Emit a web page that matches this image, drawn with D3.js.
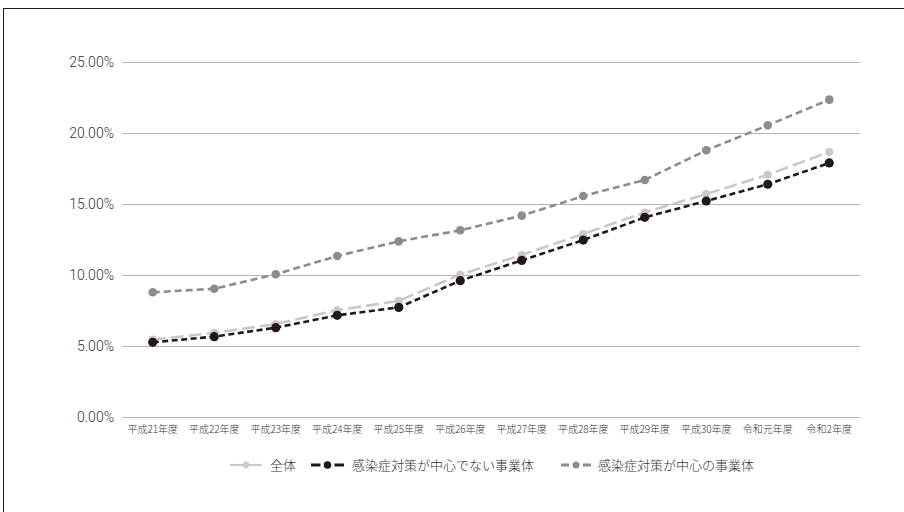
<!DOCTYPE html>
<html>
<head>
<meta charset="utf-8">
<script src="https://cdn.jsdelivr.net/npm/d3@7/dist/d3.min.js"></script>
<style>
  html, body { margin: 0; padding: 0; background: #fff; }
  svg { display: block; font-family: "Noto Sans CJK JP", "Noto Sans", sans-serif; }
</style>
</head>
<body>
<svg id="chart" width="904" height="512"></svg>
<script>
// Fiscal years on the x axis
const years = ["平成21年度", "平成22年度", "平成23年度", "平成24年度", "平成25年度", "平成26年度",
               "平成27年度", "平成28年度", "平成29年度", "平成30年度", "令和元年度", "令和2年度"];

// Share (%) for each group
const overall   = [5.45, 5.92, 6.55, 7.52, 8.18, 10.03, 11.41, 12.89, 14.41, 15.70, 17.06, 18.66];
const nonCenter = [5.26, 5.66, 6.29, 7.16, 7.72, 9.60, 11.03, 12.46, 14.06, 15.21, 16.39, 17.89];
const center    = [8.78, 9.03, 10.05, 11.34, 12.37, 13.15, 14.18, 15.56, 16.69, 18.78, 20.54, 22.35];

const seriesNames = ["全体", "感染症対策が中心でない事業体", "感染症対策が中心の事業体"];
const yTicks = [0, 5, 10, 15, 20, 25];

const series = [
  { name: seriesNames[0], values: overall,   color: "#c9c9c9", dash: "13,5", width: 2.6, r: 4 },
  { name: seriesNames[1], values: nonCenter, color: "#231815", dash: "6,3.5", width: 2.6, r: 4.6 },
  { name: seriesNames[2], values: center,    color: "#8c8c8c", dash: "7,4",  width: 2.6, r: 4.3 }
];

const svg = d3.select("#chart");

// Frame lines (top and left)
svg.append("line").attr("x1", 3).attr("x2", 904).attr("y1", 8.5).attr("y2", 8.5)
  .attr("stroke", "#231815").attr("stroke-width", 1.2);
svg.append("line").attr("x1", 3.5).attr("x2", 3.5).attr("y1", 8).attr("y2", 512)
  .attr("stroke", "#231815").attr("stroke-width", 1);

const plot = { left: 122, right: 860, top: 62, bottom: 417 };

const x = d3.scaleBand().domain(years).range([plot.left, plot.right]);
const y = d3.scaleLinear().domain([0, 25]).range([plot.bottom, plot.top]);

// Horizontal gridlines
svg.append("g")
  .selectAll("line")
  .data(yTicks)
  .join("line")
  .attr("x1", plot.left).attr("x2", plot.right)
  .attr("y1", d => Math.round(y(d)) + 0.5).attr("y2", d => Math.round(y(d)) + 0.5)
  .attr("stroke", "#b4b4b4").attr("stroke-width", 1);

// Y axis labels
const yAxis = d3.axisLeft(y).tickValues(yTicks).tickSize(0).tickPadding(0)
  .tickFormat(d => d3.format(".2f")(d) + "%");
const gy = svg.append("g").attr("transform", `translate(${plot.left - 8},0)`).call(yAxis);
gy.select(".domain").remove();
gy.selectAll("text")
  .attr("font-family", "Roboto, 'Noto Sans', sans-serif")
  .attr("font-weight", 300)
  .attr("font-size", 14).attr("fill", "#333");

// X axis labels
const xAxis = d3.axisBottom(x).tickSize(0).tickPadding(0);
const gx = svg.append("g").attr("transform", `translate(0,${plot.bottom + 12})`).call(xAxis);
gx.select(".domain").remove();
gx.selectAll("text")
  .attr("dy", "0.35em")
  .attr("font-family", "'Noto Sans CJK JP', sans-serif")
  .attr("font-weight", 300)
  .attr("font-size", 10).attr("fill", "#333");

const cx = i => x(years[i]) + x.bandwidth() / 2;
const line = d3.line().x((d, i) => cx(i)).y(d => y(d));

// Draw order: center, overall, non-center on top
const order = [2, 0, 1];
order.forEach(k => {
  const s = series[k];
  const g = svg.append("g");
  g.append("path")
    .datum(s.values)
    .attr("d", line)
    .attr("fill", "none")
    .attr("stroke", s.color)
    .attr("stroke-width", s.width)
    .attr("stroke-dasharray", s.dash);
  g.selectAll("circle")
    .data(s.values)
    .join("circle")
    .attr("cx", (d, i) => cx(i))
    .attr("cy", d => y(d))
    .attr("r", s.r)
    .attr("fill", s.color);
});

// Legend: a segment either side of the marker, then the label
const legendItems = [
  { s: series[0], x0: 230, x1: 262, tx: 270, gap: 0 },
  { s: series[1], x0: 311, x1: 344, tx: 352, gap: 7 },
  { s: series[2], x0: 561, x1: 591, tx: 598, gap: 7 }
];
const ly = 465;
const lg = svg.append("g");
legendItems.forEach(it => {
  const mid = (it.x0 + it.x1) / 2;
  const segs = [[it.x0, mid - it.gap], [mid + it.gap, it.x1]];
  lg.selectAll(null)
    .data(segs)
    .join("line")
    .attr("x1", d => d[0]).attr("x2", d => d[1]).attr("y1", ly).attr("y2", ly)
    .attr("stroke", it.s.color).attr("stroke-width", it.s === series[0] ? 2.2 : 3);
  lg.append("circle")
    .attr("cx", mid).attr("cy", ly).attr("r", it.s.r - 0.8)
    .attr("fill", it.s.color);
  lg.append("text")
    .attr("x", it.tx).attr("y", ly).attr("dy", "0.35em")
    .attr("font-weight", 300)
    .attr("font-size", 13).attr("fill", "#333")
    .text(it.s.name);
});
</script>
</body>
</html>
